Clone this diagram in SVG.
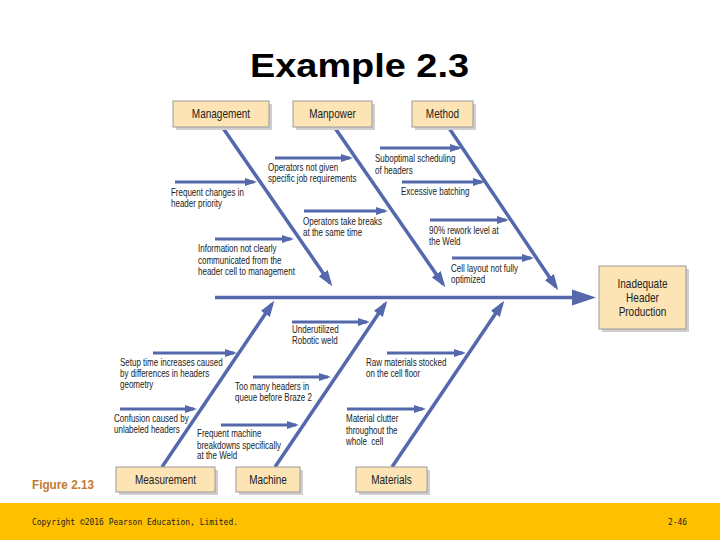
<svg xmlns="http://www.w3.org/2000/svg" width="720" height="540" viewBox="0 0 720 540">
<style>
.box{fill:#FCE4B4;stroke:#9a9a9a;stroke-width:1}
.shadow{fill:#cfcfcf}
.bl{font-family:"Liberation Sans",Arial,sans-serif;font-size:12.5px;fill:#222;text-anchor:middle}
.lb{font-family:"Liberation Sans",Arial,sans-serif;font-size:10px;fill:#222}
.bone{stroke:#5468AB;stroke-width:3.5;fill:none}
.sub{stroke:#5468AB;stroke-width:3;fill:none}
</style>
<defs>
<marker id="big" markerUnits="userSpaceOnUse" markerWidth="16" markerHeight="11" refX="12" refY="5.5" orient="auto"><path d="M0,0 L16,5.5 L0,11 Z" fill="#5468AB"/></marker>
<marker id="small" markerUnits="userSpaceOnUse" markerWidth="12" markerHeight="8" refX="9" refY="4" orient="auto"><path d="M0,0 L12,4 L0,8 Z" fill="#5468AB"/></marker>
</defs>
<rect width="720" height="540" fill="#ffffff"/>
<text x="250" y="77" font-family="Liberation Sans, Arial, sans-serif" font-size="34" font-weight="bold" fill="#000" textLength="219" lengthAdjust="spacingAndGlyphs">Example 2.3</text>

<g id="connectors">
<line class="bone" x1="215" y1="297.5" x2="574" y2="297.5" stroke-width="4.5"/>
<polygon points="572,289.5 596,297.5 572,305.5" fill="#5468AB"/>
<line class="bone" x1="223" y1="128" x2="330" y2="283" marker-end="url(#big)"/>
<line class="bone" x1="335" y1="128" x2="443" y2="284" marker-end="url(#big)"/>
<line class="bone" x1="449" y1="128" x2="556" y2="287" marker-end="url(#big)"/>
<line class="bone" x1="162" y1="467" x2="272" y2="304" marker-end="url(#big)"/>
<line class="bone" x1="275" y1="467" x2="385" y2="304" marker-end="url(#big)"/>
<line class="bone" x1="392" y1="467" x2="502" y2="304" marker-end="url(#big)"/>
<line class="sub" x1="275" y1="158" x2="350" y2="158" marker-end="url(#small)"/>
<line class="sub" x1="380" y1="148" x2="459" y2="148" marker-end="url(#small)"/>
<line class="sub" x1="402" y1="182" x2="482" y2="182" marker-end="url(#small)"/>
<line class="sub" x1="175" y1="182" x2="254" y2="182" marker-end="url(#small)"/>
<line class="sub" x1="304" y1="211" x2="385" y2="211" marker-end="url(#small)"/>
<line class="sub" x1="430" y1="220" x2="506" y2="220" marker-end="url(#small)"/>
<line class="sub" x1="215" y1="239" x2="291" y2="239" marker-end="url(#small)"/>
<line class="sub" x1="452" y1="258" x2="531" y2="258" marker-end="url(#small)"/>
<line class="sub" x1="292" y1="322" x2="367" y2="322" marker-end="url(#small)"/>
<line class="sub" x1="153" y1="353" x2="234" y2="353" marker-end="url(#small)"/>
<line class="sub" x1="387" y1="353" x2="463" y2="353" marker-end="url(#small)"/>
<line class="sub" x1="253" y1="377" x2="328" y2="377" marker-end="url(#small)"/>
<line class="sub" x1="120" y1="409" x2="194" y2="409" marker-end="url(#small)"/>
<line class="sub" x1="347" y1="409" x2="423" y2="409" marker-end="url(#small)"/>
<line class="sub" x1="221" y1="425" x2="296" y2="425" marker-end="url(#small)"/>
</g>

<g id="management"><rect class="shadow" x="176" y="104" width="96" height="26"/><rect class="box" x="173" y="101" width="96" height="26"/><text class="bl" transform="scale(0.8,1)" x="276.25" y="118.5">Management</text></g>
<g id="manpower"><rect class="shadow" x="296" y="104" width="79" height="26"/><rect class="box" x="293" y="101" width="79" height="26"/><text class="bl" transform="scale(0.8,1)" x="415.625" y="118.5">Manpower</text></g>
<g id="method"><rect class="shadow" x="415" y="104" width="61" height="26"/><rect class="box" x="412" y="101" width="61" height="26"/><text class="bl" transform="scale(0.8,1)" x="553.125" y="118.5">Method</text></g>
<g id="effect"><rect class="shadow" x="602" y="269" width="87" height="63"/><rect class="box" x="599" y="266" width="87" height="63"/><text class="bl" transform="scale(0.8,1)" x="803.125" y="288.5">Inadequate</text><text class="bl" transform="scale(0.8,1)" x="803.125" y="302">Header</text><text class="bl" transform="scale(0.8,1)" x="803.125" y="316">Production</text></g>
<g id="measurement"><rect class="shadow" x="119" y="470" width="99" height="25"/><rect class="box" x="116" y="467" width="99" height="25"/><text class="bl" transform="scale(0.8,1)" x="206.875" y="484.5">Measurement</text></g>
<g id="machine"><rect class="shadow" x="239" y="470" width="64" height="25"/><rect class="box" x="236" y="467" width="64" height="25"/><text class="bl" transform="scale(0.8,1)" x="335" y="484.5">Machine</text></g>
<g id="materials"><rect class="shadow" x="359" y="470" width="71" height="25"/><rect class="box" x="356" y="467" width="71" height="25"/><text class="bl" transform="scale(0.8,1)" x="489.375" y="484.5">Materials</text></g>

<g id="causes" transform="scale(0.8,1)">
<text class="lb" x="335" y="171.5">Operators not given</text><text class="lb" x="335" y="182.5">specific job requirements</text>
<text class="lb" x="468.75" y="162.5">Suboptimal scheduling</text><text class="lb" x="468.75" y="174.5">of headers</text>
<text class="lb" x="501.25" y="195.5">Excessive batching</text>
<text class="lb" x="213.75" y="196.5">Frequent changes in</text><text class="lb" x="213.75" y="207">header priority</text>
<text class="lb" x="378.75" y="225.5">Operators take breaks</text><text class="lb" x="378.75" y="236">at the same time</text>
<text class="lb" x="536.25" y="234.5">90% rework level at</text><text class="lb" x="536.25" y="245.5">the Weld</text>
<text class="lb" x="247.5" y="252.5">Information not clearly</text><text class="lb" x="247.5" y="264">communicated from the</text><text class="lb" x="247.5" y="275.5">header cell to management</text>
<text class="lb" x="563.75" y="272.5">Cell layout not fully</text><text class="lb" x="563.75" y="283.5">optimized</text>
<text class="lb" x="365" y="333.5">Underutilized</text><text class="lb" x="365" y="344.5">Robotic weld</text>
<text class="lb" x="150" y="366.5">Setup time increases caused</text><text class="lb" x="150" y="377">by differences in headers</text><text class="lb" x="150" y="388.5">geometry</text>
<text class="lb" x="457.5" y="366.5">Raw materials stocked</text><text class="lb" x="457.5" y="377">on the cell floor</text>
<text class="lb" x="293.75" y="390.5">Too many headers in</text><text class="lb" x="293.75" y="401.5">queue before Braze 2</text>
<text class="lb" x="142.5" y="422.5">Confusion caused by</text><text class="lb" x="142.5" y="433.5">unlabeled headers</text>
<text class="lb" x="432.5" y="422.5">Material clutter</text><text class="lb" x="432.5" y="434">throughout the</text><text class="lb" x="432.5" y="445.5" xml:space="preserve">whole  cell</text>
<text class="lb" x="246.25" y="437.5">Frequent machine</text><text class="lb" x="246.25" y="449">breakdowns specifically</text><text class="lb" x="246.25" y="459.5">at the Weld</text>
</g>

<text x="32" y="489" font-family="Liberation Sans, Arial, sans-serif" font-size="12.5" font-weight="bold" fill="#C27A2E" textLength="62" lengthAdjust="spacingAndGlyphs">Figure 2.13</text>
<rect x="0" y="503" width="720" height="37" fill="#FFC000"/>
<text x="32" y="525" font-family="DejaVu Sans Mono, monospace" font-size="9.5" fill="#222" textLength="206" lengthAdjust="spacingAndGlyphs">Copyright ©2016 Pearson Education, Limited.</text>
<text x="668" y="525" font-family="DejaVu Sans Mono, monospace" font-size="9.5" fill="#222" textLength="19" lengthAdjust="spacingAndGlyphs">2-46</text>
</svg>
